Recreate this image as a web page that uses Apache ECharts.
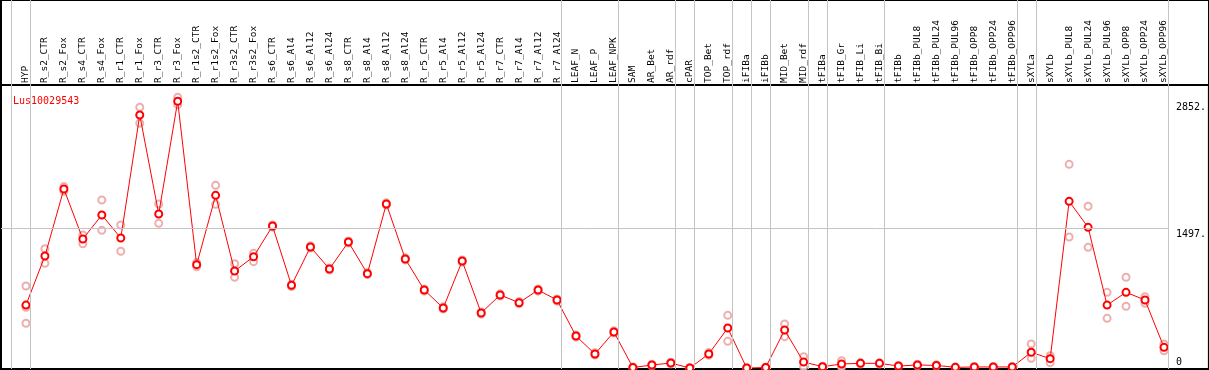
<!DOCTYPE html>
<html>
<head>
<meta charset="utf-8">
<script src="https://cdn.jsdelivr.net/npm/echarts@6/dist/echarts.min.js"></script>
<style>
  html, body { margin: 0; padding: 0; background: #fff; }
  #chart { width: 1209px; height: 370px; }
</style>
</head>
<body>
<div id="chart"></div>
<script>
// expression profile, one gene over the sample list

const geneName = 'Lus10029543';

const categories = [
  'HYP', 'R_s2_CTR', 'R_s2_Fox', 'R_s4_CTR', 'R_s4_Fox', 'R_r1_CTR', 'R_r1_Fox', 'R_r3_CTR', 'R_r3_Fox',
  'R_r1s2_CTR', 'R_r1s2_Fox', 'R_r3s2_CTR', 'R_r3s2_Fox', 'R_s6_CTR', 'R_s6_Al4', 'R_s6_Al12', 'R_s6_Al24',
  'R_s8_CTR', 'R_s8_Al4', 'R_s8_Al12', 'R_s8_Al24', 'R_r5_CTR', 'R_r5_Al4', 'R_r5_Al12', 'R_r5_Al24',
  'R_r7_CTR', 'R_r7_Al4', 'R_r7_Al12', 'R_r7_Al24', 'LEAF_N', 'LEAF_P', 'LEAF_NPK', 'SAM', 'AR_Bet', 'AR_rdf',
  'cPAR', 'TOP_Bet', 'TOP_rdf', 'iFIBa', 'iFIBb', 'MID_Bet', 'MID_rdf', 'tFIBa', 'tFIB_Gr', 'tFIB_Li', 'tFIB_Bi',
  'tFIBb', 'tFIBb_PUL8', 'tFIBb_PUL24', 'tFIBb_PUL96', 'tFIBb_OPP8', 'tFIBb_OPP24', 'tFIBb_OPP96',
  'sXYLa', 'sXYLb', 'sXYLb_PUL8', 'sXYLb_PUL24', 'sXYLb_PUL96', 'sXYLb_OPP8', 'sXYLb_OPP24', 'sXYLb_OPP96'
];

const means = [
  673, 1198, 1914, 1379, 1636, 1390, 2705, 1647, 2852,
  1105, 1846, 1037, 1190, 1518, 884, 1294, 1059,
  1347, 1009, 1754, 1166, 834, 642, 1144, 588,
  781, 698, 834, 727, 342, 150, 385, 5, 32, 53,
  0, 150, 428, 0, 5, 406, 64, 14, 43, 50, 50,
  21, 32, 28, 7, 11, 11, 11,
  168, 100, 1782, 1504, 673, 809, 727, 221
];

const rep1 = [
  877, 1276, 1940, 1422, 1796, 1529, 2788, 1754, 2894,
  1127, 1953, 1115, 1226, 1530, 896, 1306, 1070,
  1358, 1020, 1766, 1178, 846, 654, 1156, 600,
  793, 710, 846, 739, 354, 162, 397, 12, 40, 62,
  4, 165, 563, 3, 10, 470, 121, 20, 78, 58, 57,
  27, 40, 35, 12, 16, 16, 16,
  257, 132, 2178, 1729, 809, 970, 762, 257
];

const rep2 = [
  478, 1119, 1890, 1329, 1472, 1248, 2617, 1547, 2816,
  1083, 1750, 970, 1137, 1506, 872, 1282, 1048,
  1336, 998, 1742, 1154, 822, 630, 1132, 576,
  769, 686, 822, 715, 330, 138, 373, 0, 24, 44,
  0, 135, 285, 0, 0, 335, 10, 8, 8, 42, 43,
  15, 24, 21, 2, 6, 6, 6,
  103, 57, 1401, 1290, 531, 660, 692, 185
];

// HYP has a third replicate
const rep3 = [649];

// group boundaries: a divider follows each of these sample indices
const groupEnds = [-1, 0, 28, 31, 34, 35, 37, 38, 39, 41, 42, 45, 52, 53, 60];

const yTicks = [0, 1497, 2852];
const yTickLabels = ['0', '1497.', '2852.'];

// layout: first sample at x=26, 19px per sample; value 0 at y=368, 1497 at y=228
const gridLeft = 1, gridRight = -2;
const plotWidth = 1209 - gridLeft - gridRight;
const xMin = (gridLeft - 26) / 19;
const xMax = xMin + plotWidth / 19;
const yPerPx = 1497 / 140;
const yMin = -1 * yPerPx;
const yMax = yMin + 284 * yPerPx;
const divOffset = 4.5 / 19;

const mono = 'DejaVu Sans Mono';

const toPairs = arr => arr.map((v, i) => [i, v]);
const repPoints = toPairs(rep1).concat(toPairs(rep2), toPairs(rep3));

const dividers = groupEnds.map(k => ({ xAxis: k + divOffset }));
const lastDivider = groupEnds[groupEnds.length - 1] + divOffset;

const gridLine = {
    silent: true,
    symbol: ['none', 'none'],
    label: { show: false },
    lineStyle: { color: '#c4c4c4', type: 'solid', width: 1 }
};

const option = {
    animation: false,
    backgroundColor: '#fff',
    title: {
        text: geneName,
        left: 8,
        top: 91,
        textStyle: { color: '#ff0000', fontSize: 10, fontWeight: 'normal', fontFamily: mono }
    },
    grid: [
        { left: gridLeft, right: gridRight, top: 85, bottom: 1, show: true, borderColor: '#000', borderWidth: 2 },
        { left: gridLeft, right: gridRight, top: 0, height: 85, show: true, borderColor: '#000', borderWidth: 2 }
    ],
    xAxis: [
        {
            type: 'value',
            gridIndex: 0,
            position: 'top',
            min: xMin,
            max: xMax,
            axisLine: { show: false },
            axisTick: { show: false },
            splitLine: { show: false },
            axisLabel: {
                customValues: categories.map((c, i) => i),
                formatter: v => categories[v],
                rotate: 90,
                margin: 2,
                color: '#000',
                fontSize: 9.5,
                fontFamily: mono
            }
        },
        { type: 'value', gridIndex: 1, min: xMin, max: xMax, show: false }
    ],
    yAxis: [
        {
            type: 'value',
            gridIndex: 0,
            position: 'right',
            min: yMin,
            max: yMax,
            axisLine: { show: false },
            axisTick: { show: false },
            splitLine: { show: false },
            axisLabel: {
                inside: true,
                margin: 33,
                align: 'left',
                customValues: yTicks,
                formatter: v => {
                    const s = yTickLabels[yTicks.indexOf(v)];
                    return v === 0 ? '{b|' + s + '}' : '{t|' + s + '}';
                },
                color: '#000',
                fontSize: 10,
                fontFamily: mono,
                rich: {
                    t: { padding: [12, 0, 0, 0], fontSize: 10, fontFamily: mono, color: '#000' },
                    b: { padding: [0, 0, 12, 0], fontSize: 10, fontFamily: mono, color: '#000' }
                }
            }
        },
        { type: 'value', gridIndex: 1, min: 0, max: 1, show: false }
    ],
    series: [
        {
            name: 'dividers-top',
            type: 'line',
            xAxisIndex: 1,
            yAxisIndex: 1,
            data: [],
            markLine: Object.assign({ data: dividers }, gridLine)
        },
        {
            name: 'dividers',
            type: 'line',
            xAxisIndex: 0,
            yAxisIndex: 0,
            z: 1,
            data: [],
            markLine: Object.assign({
                data: dividers.concat([[{ coord: [xMin, 1497] }, { coord: [lastDivider, 1497] }]])
            }, gridLine)
        },
        {
            name: 'replicates',
            type: 'scatter',
            xAxisIndex: 0,
            yAxisIndex: 0,
            z: 2,
            symbol: 'emptyCircle',
            symbolSize: 7,
            itemStyle: { color: '#e89a9a', borderWidth: 1.5 },
            data: repPoints
        },
        {
            name: geneName,
            type: 'line',
            xAxisIndex: 0,
            yAxisIndex: 0,
            z: 3,
            symbol: 'emptyCircle',
            symbolSize: 7,
            lineStyle: { color: '#ff0000', width: 1 },
            itemStyle: { color: '#ff0000', borderWidth: 1.8 },
            data: toPairs(means)
        }
    ]
};

const myChart = echarts.init(document.getElementById('chart'));
myChart.setOption(option);
</script>
</body>
</html>
